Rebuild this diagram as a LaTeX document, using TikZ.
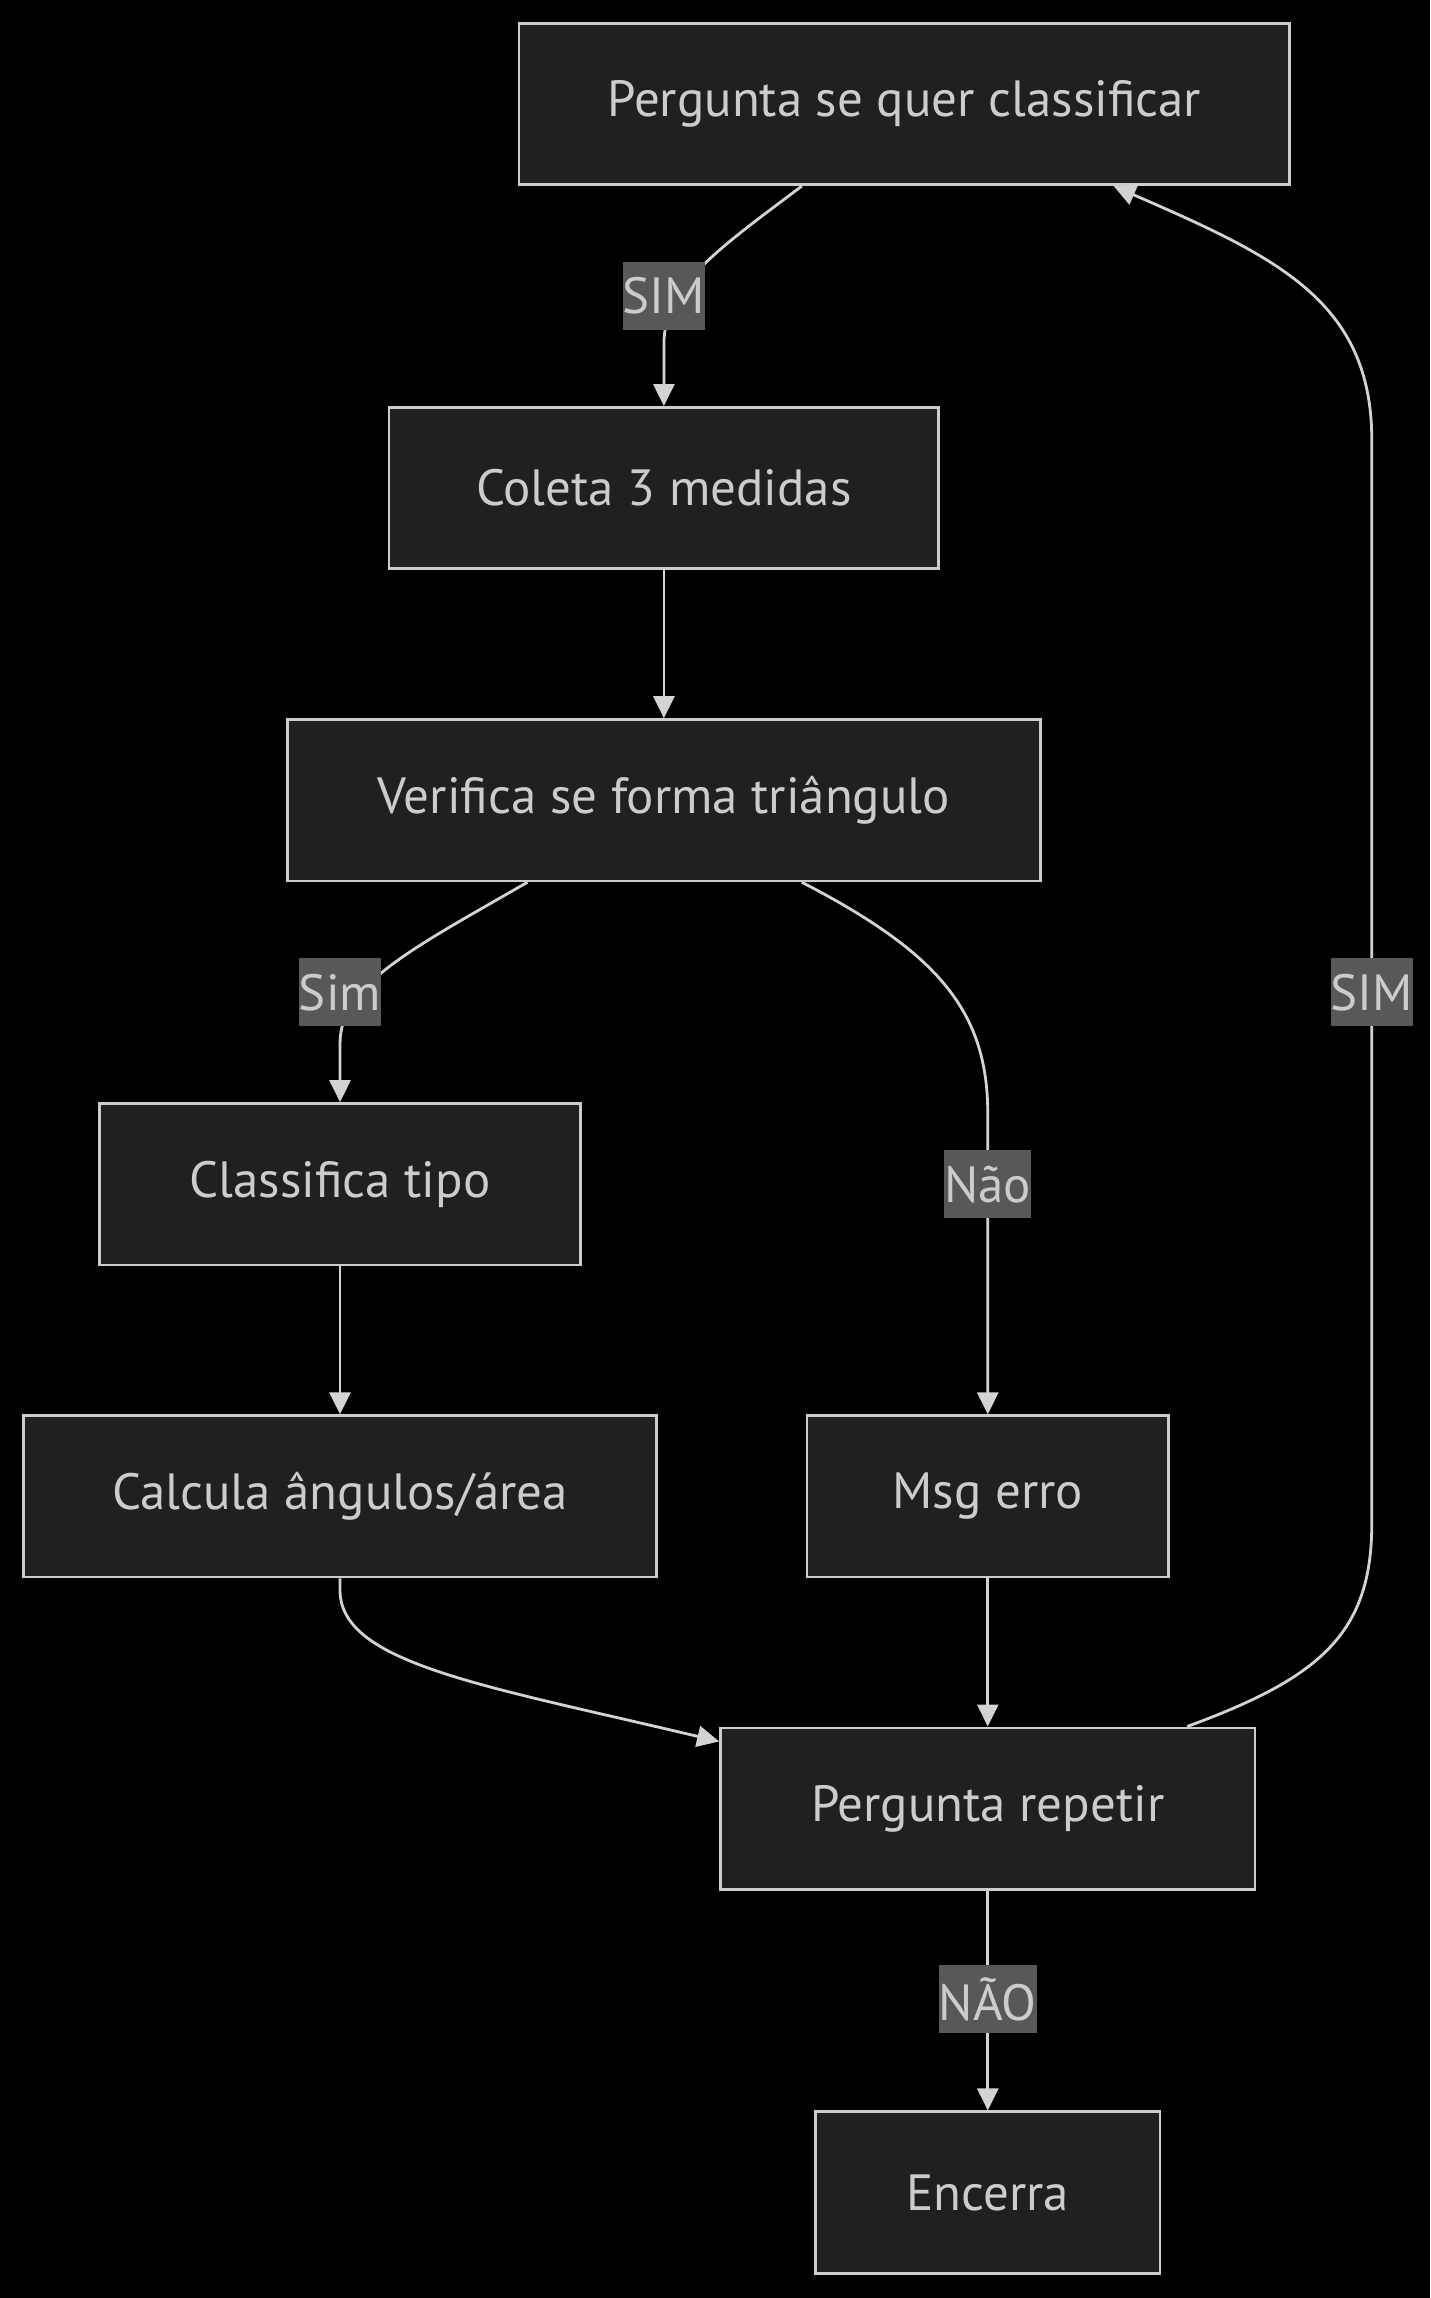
\documentclass[tikz,border=0pt]{standalone}
\usepackage{fontspec}
\setmainfont{PT Sans}
\usepackage{tikz}
\usetikzlibrary{arrows.meta}

\definecolor{nodefill}{HTML}{1F2020}
\definecolor{nodeline}{HTML}{CCCCCC}
\definecolor{edgeline}{HTML}{D3D3D3}
\definecolor{lblfill}{HTML}{585858}

\begin{document}
\begin{tikzpicture}[x=0.029324cm,y=-0.029324cm,
    >={Triangle[length=0.44cm,width=0.42cm]},
    every node/.style={font=\fontsize{29}{34}\selectfont,text=nodeline},
    stepbox/.style={rectangle,draw=nodeline,fill=nodefill,line width=1.5pt,
      minimum height=3.23cm,inner sep=0pt},
    lbl/.style={rectangle,fill=lblfill,inner xsep=0pt,inner ysep=0pt,minimum height=1.35cm},
    flow/.style={draw=edgeline,line width=1.6pt,->}]
  \fill[black] (0,0) rectangle (976,1568);
  \useasboundingbox (0,0) rectangle (976,1568);

  \node[stepbox,minimum width=15.42cm] (perg) at (617,71) {Pergunta se quer classificar};
  \node[stepbox,minimum width=11.00cm] (coleta) at (453,333) {Coleta 3 medidas};
  \node[stepbox,minimum width=15.07cm] (verif) at (453,546) {Verifica se forma triângulo};
  \node[stepbox,minimum width=9.62cm] (classif) at (232,808) {Classifica tipo};
  \node[stepbox,minimum width=12.67cm] (calc) at (232,1021) {Calcula ângulos/área};
  \node[stepbox,minimum width=7.24cm] (erro) at (674,1021) {Msg erro};
  \node[stepbox,minimum width=10.70cm] (repetir) at (674,1234) {Pergunta repetir};
  \node[stepbox,minimum width=6.89cm] (encerra) at (674,1496) {Encerra};

  \draw[flow] ([xshift=-2.05cm]perg.south) .. controls (490,170) and (453,195) .. (453,235) -- (coleta.north);
  \draw[flow] (coleta.south) -- (verif.north);
  \draw[flow] ([xshift=-2.73cm]verif.south) .. controls (280,648) and (232,672) .. (232,712) -- (classif.north);
  \draw[flow] ([xshift=2.76cm]verif.south) .. controls (640,650) and (674,690) .. (674,760) -- (erro.north);
  \draw[flow] (classif.south) -- (calc.north);
  \draw[flow] (erro.south) -- (repetir.north);
  \draw[flow] (calc.south) -- (232,1085) .. controls (232,1135) and (330,1150) .. ([yshift=-0.3cm]repetir.north west);
  \draw[flow] ([xshift=3.99cm]repetir.north) .. controls (900,1145) and (936,1115) .. (936,1040)
    -- (936,300) .. controls (936,205) and (870,175) .. ([xshift=4.19cm]perg.south);
  \draw[flow] (repetir.south) -- (encerra.north);

  \node[lbl] (l1) at (453,202) {SIM};
  \node[lbl] (l2) at (232,677) {Sim};
  \node[lbl] (l3) at (674,808) {Não};
  \node[lbl] (l4) at (936,677) {SIM};
  \node[lbl] (l5) at (674,1364) {NÃO};
\end{tikzpicture}
\end{document}
